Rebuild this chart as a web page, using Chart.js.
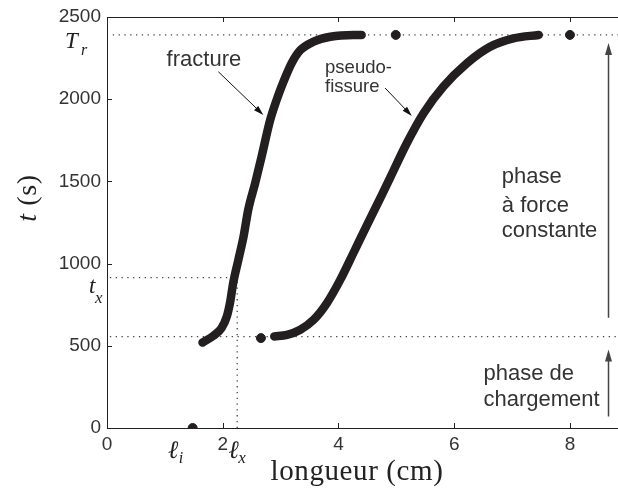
<!DOCTYPE html>
<html lang="fr">
<head>
<meta charset="utf-8">
<script src="https://cdn.jsdelivr.net/npm/chart.js@4.4.0/dist/chart.umd.min.js"></script>
<style>
  html, body { margin: 0; padding: 0; background: #fff; }
  #wrap { width: 618px; height: 489px; position: relative; }
</style>
</head>
<body>
<div id="wrap"><canvas id="chart"></canvas></div>
<script>
// longueur (cm) vs t (s)
const fractureLen = [1.65, 1.84, 1.98, 2.07, 2.13, 2.18, 2.27, 2.36, 2.44, 2.56, 2.67, 2.82, 2.93, 3.05, 3.19, 3.34, 3.57, 3.86, 4.26, 4.40];
const fractureT   = [520, 561, 608, 678, 770, 881, 1023, 1165, 1327, 1489, 1649, 1874, 1995, 2107, 2219, 2298, 2350, 2380, 2391, 2391];

const pseudoLen = [2.89, 3.11, 3.34, 3.57, 3.80, 4.03, 4.26, 4.49, 4.75, 4.89, 5.18, 5.47, 5.81, 6.22, 6.62, 7.02, 7.46];
const pseudoT   = [557, 567, 598, 658, 760, 901, 1066, 1232, 1418, 1520, 1732, 1915, 2076, 2219, 2319, 2370, 2391];

// isolated points
const dotLen = [1.48, 2.66, 4.99, 8.0];
const dotT   = [0, 547, 2391, 2391];

const xTicks = [0, 2, 4, 6, 8];
const yTicks = [0, 500, 1000, 1500, 2000, 2500];

const tRupture = 2391;  // T_r
const tCross   = 915;   // t_x
const tLoad    = 556;   // end of loading phase
const lenInit  = 1.48;  // l_i
const lenCross = 2.25;  // l_x
const xMax = 8.83;

const INK = '#231f20';
const GREY = '#444';
const SANS = '"Liberation Sans", Arial, sans-serif';
const SERIF = '"Liberation Serif", "DejaVu Serif", serif';

const pts = (xs, ys) => xs.map((v, i) => ({ x: v, y: ys[i] }));

function dotted(data) {
  return {
    data, showLine: true, borderColor: GREY, borderWidth: 1.3,
    borderDash: [1.3, 4.5], pointRadius: 0, order: 5
  };
}

const datasets = [
  {
    label: 'fracture', data: pts(fractureLen, fractureT), showLine: true,
    borderColor: INK, borderWidth: 8.5, borderCapStyle: 'round', borderJoinStyle: 'round',
    cubicInterpolationMode: 'monotone', pointRadius: 0, order: 1
  },
  {
    label: 'pseudo-fissure', data: pts(pseudoLen, pseudoT), showLine: true,
    borderColor: INK, borderWidth: 8.5, borderCapStyle: 'round', borderJoinStyle: 'round',
    cubicInterpolationMode: 'monotone', pointRadius: 0, order: 1
  },
  {
    label: 'points', data: pts(dotLen, dotT), showLine: false,
    backgroundColor: INK, borderColor: INK, pointRadius: 4.5, order: 0
  },
  dotted([{ x: 0.1, y: tRupture }, { x: xMax, y: tRupture }]),
  dotted([{ x: 0.05, y: tCross }, { x: lenCross - 0.1, y: tCross }]),
  dotted([{ x: 0.05, y: tLoad }, { x: xMax, y: tLoad }]),
  dotted([{ x: lenCross, y: 0 }, { x: lenCross, y: tCross }])
];

function arrow(ctx, x1, y1, x2, y2, color, lw, hl, hw) {
  const ang = Math.atan2(y2 - y1, x2 - x1);
  ctx.save();
  ctx.strokeStyle = color; ctx.fillStyle = color; ctx.lineWidth = lw;
  ctx.beginPath();
  ctx.moveTo(x1, y1);
  ctx.lineTo(x2 - Math.cos(ang) * hl * 0.8, y2 - Math.sin(ang) * hl * 0.8);
  ctx.stroke();
  ctx.translate(x2, y2); ctx.rotate(ang);
  ctx.beginPath();
  ctx.moveTo(0, 0); ctx.lineTo(-hl, hw / 2); ctx.lineTo(-hl, -hw / 2);
  ctx.closePath(); ctx.fill();
  ctx.restore();
}

function txt(ctx, s, x, y, font, color, align) {
  ctx.font = font; ctx.fillStyle = color || '#333';
  ctx.textAlign = align || 'left'; ctx.textBaseline = 'alphabetic';
  ctx.fillText(s, x, y);
}

const notes = {
  id: 'notes',
  afterDraw(chart) {
    const { ctx, chartArea: a, scales: { x, y } } = chart;
    const X = v => x.getPixelForValue(v), Y = v => y.getPixelForValue(v);
    ctx.save();

    // top spine + inward ticks
    ctx.strokeStyle = '#222'; ctx.lineWidth = 1;
    ctx.beginPath();
    ctx.moveTo(a.left, a.top + 0.5); ctx.lineTo(a.right, a.top + 0.5);
    xTicks.slice(1).forEach(v => {
      const p = Math.round(X(v)) + 0.5;
      ctx.moveTo(p, a.bottom); ctx.lineTo(p, a.bottom - 5);
      ctx.moveTo(p, a.top); ctx.lineTo(p, a.top + 5);
    });
    yTicks.slice(1, -1).forEach(v => {
      const p = Math.round(Y(v)) + 0.5;
      ctx.moveTo(a.left, p); ctx.lineTo(a.left + 5, p);
    });
    ctx.stroke();

    // annotations
    const f22 = '22px ' + SANS, f18 = '18.5px ' + SANS;
    txt(ctx, 'fracture', X(1.03), Y(2199), f22);
    arrow(ctx, X(1.924), Y(2167), X(2.702), Y(1904), '#111', 1, 10, 6);
    txt(ctx, 'pseudo-', X(3.768), Y(2161), f18);
    txt(ctx, 'fissure', X(3.768), Y(2046), f18);
    arrow(ctx, X(4.805), Y(2068), X(5.267), Y(1898), '#111', 1, 10, 6);
    txt(ctx, 'phase', X(6.823), Y(1489), f22);
    txt(ctx, 'à force', X(6.823), Y(1315), f22);
    txt(ctx, 'constante', X(6.823), Y(1163), f22);
    txt(ctx, 'phase de', X(6.505), Y(294), f22);
    txt(ctx, 'chargement', X(6.505), Y(131), f22);
    arrow(ctx, X(8.666), Y(670), X(8.666), Y(2342), GREY, 1.5, 12, 7);
    arrow(ctx, X(8.666), Y(70), X(8.666), Y(477), GREY, 1.5, 12, 7);

    // symbols on the axes
    const it = s => 'italic ' + s + 'px ' + SERIF;
    txt(ctx, 'T', a.left - 42, Y(tRupture) + 13, it(23), '#222');
    txt(ctx, 'r', a.left - 26, Y(tRupture) + 20, it(16), '#222');
    txt(ctx, 't', a.left - 18, Y(tCross) + 15, it(23), '#222');
    txt(ctx, 'x', a.left - 12, Y(tCross) + 25, it(17), '#222');
    txt(ctx, 'ℓ', X(lenInit) - 25, a.bottom + 30, it(25), '#222');
    txt(ctx, 'i', X(lenInit) - 14, a.bottom + 35, it(16), '#222');
    txt(ctx, 'ℓ', X(lenCross) - 9, a.bottom + 30, it(25), '#222');
    txt(ctx, 'x', X(lenCross) + 1, a.bottom + 35, it(17), '#222');

    // axis titles
    ctx.letterSpacing = '0.6px';
    txt(ctx, 'longueur (cm)', 357, 480, '29px ' + SERIF, '#222', 'center');
    ctx.save();
    ctx.translate(36, 198); ctx.rotate(-Math.PI / 2);
    ctx.font = it(28);
    ctx.fillStyle = '#222'; ctx.textAlign = 'left'; ctx.textBaseline = 'alphabetic';
    const wT = ctx.measureText('t').width;
    ctx.font = '28px ' + SERIF;
    const wR = ctx.measureText(' (s)').width;
    const x0 = -(wT + wR) / 2;
    ctx.font = it(28); ctx.fillText('t', x0, 0);
    ctx.font = '28px ' + SERIF; ctx.fillText(' (s)', x0 + wT, 0);
    ctx.restore();
    ctx.letterSpacing = '0px';

    ctx.restore();
  }
};

new Chart(document.getElementById('chart'), {
  type: 'scatter',
  data: { datasets },
  options: {
    responsive: true, maintainAspectRatio: false, animation: false,
    layout: { autoPadding: false, padding: { top: 17, right: 0, left: 0, bottom: 0 } },
    plugins: { legend: { display: false }, tooltip: { enabled: false } },
    scales: {
      x: {
        type: 'linear', min: 0, max: xMax,
        afterFit(s) { s.height = 61; s.paddingLeft = 0; s.paddingRight = 0; },
        afterBuildTicks(s) { s.ticks = xTicks.map(v => ({ value: v })); },
        grid: { display: false, drawTicks: false },
        border: { display: true, color: '#222', width: 1 },
        ticks: { padding: 5, color: '#333', font: { family: SANS, size: 19 }, callback: v => String(v) }
      },
      y: {
        type: 'linear', min: 0, max: 2500,
        afterFit(s) { s.width = 107; s.paddingTop = 0; s.paddingBottom = 0; },
        afterBuildTicks(s) { s.ticks = yTicks.map(v => ({ value: v })); },
        grid: { display: false, drawTicks: false },
        border: { display: true, color: '#222', width: 1 },
        ticks: { padding: 6, color: '#333', font: { family: SANS, size: 19 }, callback: v => String(v) }
      }
    }
  },
  plugins: [notes]
});
</script>
</body>
</html>
